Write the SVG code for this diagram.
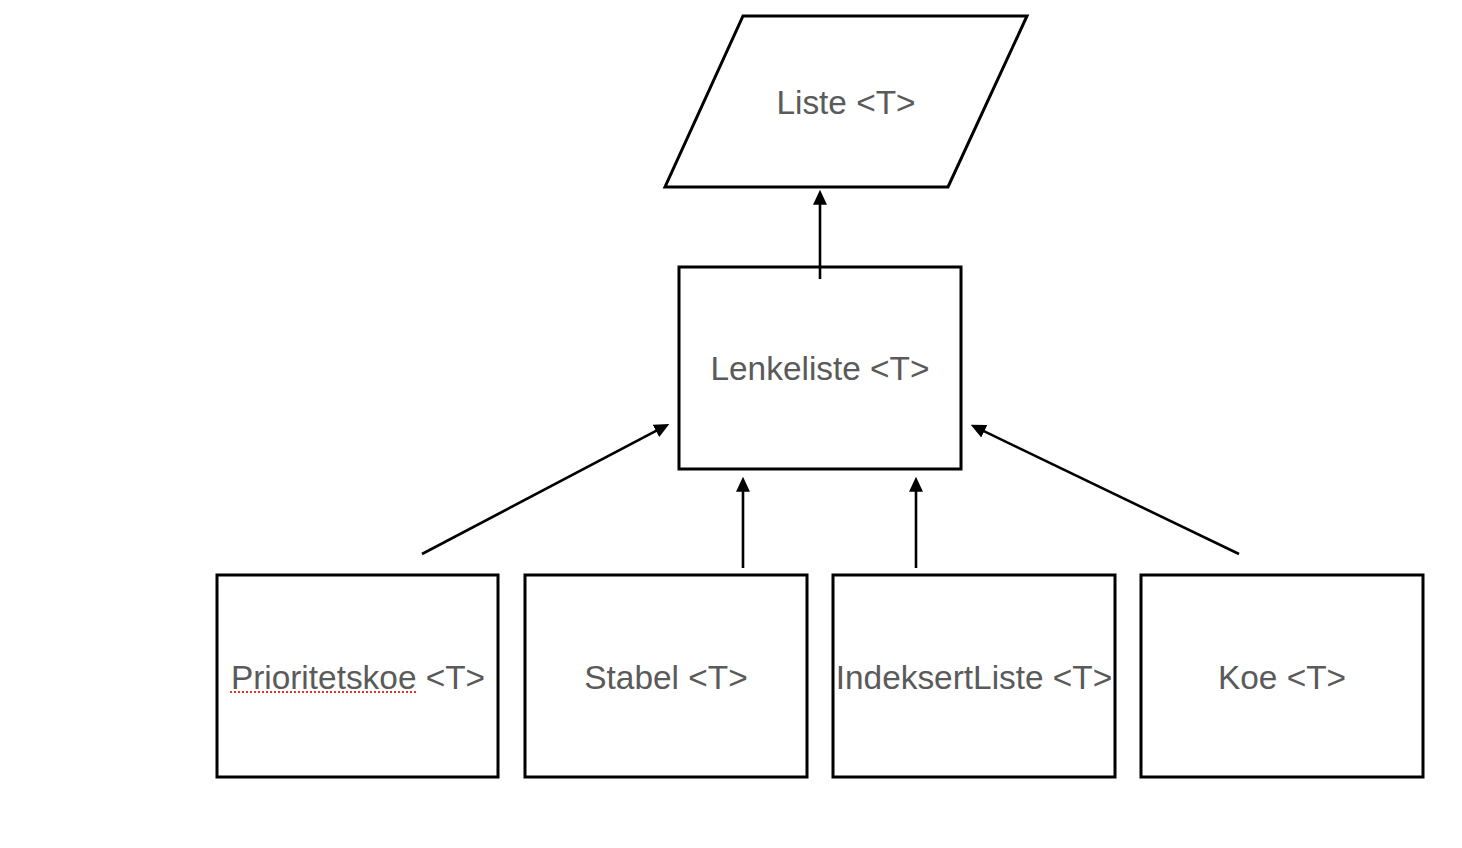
<svg xmlns="http://www.w3.org/2000/svg" width="1462" height="848" viewBox="0 0 1462 848">
  <style>
    .shape { fill: #ffffff; stroke: #000000; stroke-width: 3; }
    .label { font-family: "Liberation Sans", Arial, Helvetica, sans-serif; font-size: 33.4px; fill: #5a5a5a; text-anchor: middle; }
    .conn { stroke: #000000; stroke-width: 2.6; fill: none; marker-end: url(#arrow); }
    .spell { stroke: #e0342c; stroke-width: 2.2; stroke-dasharray: 2 2; fill: none; }
  </style>
  <defs>
    <marker id="arrow" markerUnits="userSpaceOnUse" markerWidth="15" markerHeight="15" viewBox="0 0 14 14" refX="10" refY="7" orient="auto">
      <path d="M0,0.5 L14,7 L0,13.5 z" fill="#000000"/>
    </marker>
  </defs>
  <rect x="0" y="0" width="1462" height="848" fill="#ffffff"/>

  <g id="node-liste">
    <polygon class="shape" points="743,16 1027,16 948,187 665,187"/>
    <text class="label" x="846" y="114">Liste &lt;T&gt;</text>
  </g>

  <g id="node-lenkeliste">
    <rect class="shape" x="679" y="267" width="282" height="202"/>
    <text class="label" x="820" y="380">Lenkeliste &lt;T&gt;</text>
  </g>

  <g id="node-prioritetskoe">
    <rect class="shape" x="217" y="575" width="281" height="202"/>
    <text class="label" x="358" y="689">Prioritetskoe &lt;T&gt;</text>
    <line class="spell" x1="230" y1="692" x2="417" y2="692"/>
  </g>

  <g id="node-stabel">
    <rect class="shape" x="525" y="575" width="282" height="202"/>
    <text class="label" x="666" y="689">Stabel &lt;T&gt;</text>
  </g>

  <g id="node-indeksertliste">
    <rect class="shape" x="833" y="575" width="282" height="202"/>
    <text class="label" x="974" y="689">IndeksertListe &lt;T&gt;</text>
  </g>

  <g id="node-koe">
    <rect class="shape" x="1141" y="575" width="282" height="202"/>
    <text class="label" x="1282" y="689">Koe &lt;T&gt;</text>
  </g>

  <g id="connectors">
    <line class="conn" x1="820" y1="279" x2="820" y2="194"/>
    <line class="conn" x1="422" y1="554" x2="665.5" y2="425.9"/>
    <line class="conn" x1="743" y1="568" x2="743" y2="481"/>
    <line class="conn" x1="916" y1="568" x2="916" y2="481"/>
    <line class="conn" x1="1239" y1="554" x2="974.6" y2="426.7"/>
  </g>
</svg>
